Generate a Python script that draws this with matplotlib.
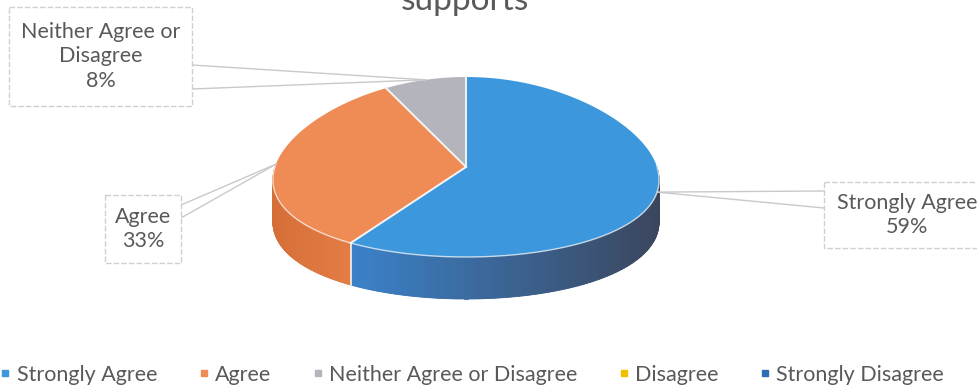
import textwrap

import numpy as np
import matplotlib

matplotlib.use("Agg")

import matplotlib.pyplot as plt
from matplotlib.patches import Polygon, Rectangle
from matplotlib.lines import Line2D
from matplotlib.colors import to_rgb

plt.rcParams["font.family"] = ["Lato", "DejaVu Sans"]

# survey answers
categories = [
    "Strongly Agree",
    "Agree",
    "Neither Agree or Disagree",
    "Disagree",
    "Strongly Disagree",
]
percent = [59, 33, 8, 0, 0]

title = "supports"

top_colors = ["#3c97dc", "#ef8b54", "#b4b4bc", "#f2bf00", "#2e6db4"]
# side wall shading, left -> right
side_colors = [
    ("#3b82ca", "#3b465d"),
    ("#d66e38", "#e47e45"),
    ("#8e8e96", "#a4a4ac"),
    ("#c99e00", "#e0b000"),
    ("#25578f", "#2e6db4"),
]

text_grey = "#595959"

# label boxes (x0, y0, x1, y1) and where the leader lines leave them
label_boxes = {
    "Strongly Agree": ((824, 182, 990, 248), [(824, 191), (824, 208)]),
    "Agree": ((105, 195, 181, 263), [(181, 205), (181, 218)]),
    "Neither Agree or Disagree": ((9, 7, 192, 106), [(192, 65), (192, 89)]),
}

W, H = 978, 391
fig = plt.figure(figsize=(W / 100, H / 100), dpi=100)
ax = fig.add_axes([0, 0, 1, 1])
ax.set_xlim(0, W)
ax.set_ylim(H, 0)
ax.axis("off")

# 3d pie geometry
cx, cy = 466, 167
rx, ry = 191, 90
depth = 42
persp = 0.15


def rim(theta, drop=0.0):
    # theta in degrees, clockwise from 12 o'clock
    t = np.radians(theta)
    x = cx + rx * np.sin(t) * (1 - persp * np.cos(t))
    y = cy - ry * np.cos(t) + drop
    return x, y


bounds = np.cumsum([0] + percent) * 3.6

for i, value in enumerate(percent):
    if value <= 0:
        continue
    a0, a1 = bounds[i], bounds[i + 1]

    # side wall, only the front half is visible
    v0, v1 = max(a0, 90), min(a1, 270)
    if v1 > v0:
        arc = np.linspace(v0, v1, 120)
        xs, ys = rim(arc)
        x_lo, x_hi = xs.min(), xs.max()
        c_left = np.array(to_rgb(side_colors[i][0]))
        c_right = np.array(to_rgb(side_colors[i][1]))

        # solid backing so the strips leave no gaps
        wall = list(zip(xs, ys)) + list(zip(xs[::-1], ys[::-1] + depth))
        ax.add_patch(
            Polygon(
                wall,
                closed=True,
                facecolor=(c_left + c_right) / 2,
                edgecolor="none",
                zorder=1,
            )
        )
        for k in range(len(arc) - 1):
            frac = ((xs[k] + xs[k + 1]) / 2 - x_lo) / max(x_hi - x_lo, 1)
            col = c_left + (c_right - c_left) * frac
            quad = [
                (xs[k], ys[k]),
                (xs[k + 1], ys[k + 1]),
                (xs[k + 1], ys[k + 1] + depth),
                (xs[k], ys[k] + depth),
            ]
            ax.add_patch(
                Polygon(
                    quad,
                    closed=True,
                    facecolor=col,
                    edgecolor=col,
                    lw=0.6,
                    zorder=2,
                )
            )

    # top face
    arc = np.linspace(a0, a1, 200)
    xs, ys = rim(arc)
    pts = [(cx, cy)] + list(zip(xs, ys))
    ax.add_patch(
        Polygon(
            pts,
            closed=True,
            facecolor=top_colors[i],
            edgecolor="none",
            zorder=3,
        )
    )

# seams between slices
for b in bounds[:-1]:
    if b >= 360:
        continue
    x, y = rim(b)
    ax.plot([cx, x], [cy, y], color="#f4f4f4", lw=1.4, zorder=4)
    if 90 <= b <= 270:
        ax.plot([x, x], [y, y + depth], color="#f4f4f4", lw=1.2, zorder=4)

# light rim along the front edge
arc = np.linspace(90, 270, 200)
xs, ys = rim(arc)
ax.plot(xs, ys, color="white", lw=1.0, alpha=0.7, zorder=4)

# data labels with leader lines
for i, cat in enumerate(categories):
    if cat not in label_boxes:
        continue
    (x0, y0, x1, y1), attach = label_boxes[cat]
    ax.add_patch(
        Rectangle(
            (x0, y0),
            x1 - x0,
            y1 - y0,
            facecolor="white",
            edgecolor="#cfcfcf",
            lw=1.0,
            linestyle=(0, (4, 1.5)),
            zorder=5,
        )
    )
    mid = (bounds[i] + bounds[i + 1]) / 2
    ax_, ay_ = rim(mid)
    for px, py in attach:
        ax.plot([px, ax_], [py, ay_], color="#c9c9c9", lw=1.0, zorder=4)
    label = textwrap.fill(cat, 16) + f"\n{percent[i]}%"
    ax.text(
        (x0 + x1) / 2,
        (y0 + y1) / 2,
        label,
        ha="center",
        va="center",
        fontsize=15.5,
        color=text_grey,
        linespacing=1.3,
        zorder=6,
    )

ax.text(
    465,
    10,
    title,
    ha="center",
    va="baseline",
    fontsize=24,
    color=text_grey,
)

handles = [
    Line2D(
        [0],
        [0],
        marker="s",
        linestyle="none",
        markersize=4.5,
        markerfacecolor=c,
        markeredgecolor=c,
    )
    for c in top_colors
]
fig.legend(
    handles,
    categories,
    loc="center",
    bbox_to_anchor=(472 / W, 1 - 375 / H),
    ncol=5,
    frameon=False,
    fontsize=15.5,
    labelcolor=text_grey,
    handlelength=0.5,
    handletextpad=0.28,
    columnspacing=1.9,
    borderaxespad=0,
    borderpad=0,
)

fig.savefig("out.png", dpi=100)
plt.close(fig)
